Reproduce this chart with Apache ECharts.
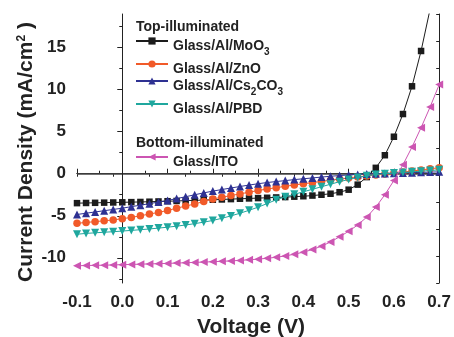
<!DOCTYPE html>
<html>
<head>
<meta charset="utf-8">
<script src="https://cdn.jsdelivr.net/npm/echarts@6/dist/echarts.min.js"></script>
<style>
  html, body { margin: 0; padding: 0; background: #fff; }
  #chart { width: 454px; height: 337px; }
</style>
</head>
<body>
<div id="chart"></div>
<script>
// voltage steps (V)
var voltage = [-0.10, -0.08, -0.06, -0.04, -0.02, 0.00, 0.02, 0.04, 0.06, 0.08,
               0.10, 0.12, 0.14, 0.16, 0.18, 0.20, 0.22, 0.24, 0.26, 0.28,
               0.30, 0.32, 0.34, 0.36, 0.38, 0.40, 0.42, 0.44, 0.46, 0.48,
               0.50, 0.52, 0.54, 0.56, 0.58, 0.60, 0.62, 0.64, 0.66, 0.68, 0.70];

// current density (mA/cm2)
var jMoO3 = [-3.5, -3.48, -3.46, -3.44, -3.42, -3.4, -3.38, -3.36, -3.33, -3.3,
             -3.27, -3.24, -3.2, -3.17, -3.13, -3.1, -3.06, -3.02, -2.98, -2.94,
             -2.9, -2.86, -2.82, -2.78, -2.73, -2.68, -2.6, -2.5, -2.38, -2.2,
             -1.9, -1.3, -0.4, 0.7, 2.2, 4.4, 7.1, 10.4, 14.6, 19.6, 25.5];
var jZnO = [-5.9, -5.8, -5.7, -5.6, -5.5, -5.35, -5.2, -5.0, -4.8, -4.6,
            -4.37, -4.1, -3.85, -3.6, -3.3, -3.0, -2.8, -2.6, -2.4, -2.2,
            -2.0, -1.82, -1.66, -1.5, -1.34, -1.2, -1.06, -0.92, -0.78, -0.64,
            -0.5, -0.38, -0.26, -0.14, -0.03, 0.08, 0.2, 0.32, 0.45, 0.58, 0.72];
var jCs2CO3 = [-4.85, -4.7, -4.55, -4.4, -4.25, -4.1, -3.92, -3.74, -3.56, -3.37,
               -3.18, -2.96, -2.74, -2.5, -2.28, -2.07, -1.88, -1.7, -1.52, -1.35,
               -1.19, -1.05, -0.93, -0.82, -0.7, -0.6, -0.5, -0.4, -0.3, -0.22,
               -0.14, -0.08, -0.03, 0.0, 0.04, 0.07, 0.1, 0.13, 0.16, 0.19, 0.22];
var jPBD = [-7.2, -7.1, -7.03, -6.96, -6.9, -6.82, -6.74, -6.66, -6.57, -6.47,
            -6.36, -6.24, -6.1, -5.94, -5.76, -5.56, -5.3, -5.02, -4.7, -4.35,
            -3.98, -3.55, -3.1, -2.75, -2.45, -2.15, -1.85, -1.55, -1.25, -0.95,
            -0.68, -0.45, -0.25, -0.1, 0.0, 0.08, 0.15, 0.22, 0.3, 0.38, 0.46];
var jITO = [-10.95, -10.92, -10.9, -10.88, -10.85, -10.82, -10.79, -10.76, -10.73, -10.7,
            -10.67, -10.63, -10.59, -10.55, -10.51, -10.47, -10.42, -10.37, -10.31, -10.24,
            -10.16, -10.06, -9.94, -9.78, -9.58, -9.33, -9.02, -8.62, -8.12, -7.5,
            -6.85, -6.1, -5.16, -3.97, -2.5, -0.8, 1.07, 3.17, 5.48, 7.94, 10.6];

var seriesNames = ['Glass/Al/MoO3', 'Glass/Al/ZnO', 'Glass/Al/Cs2CO3', 'Glass/Al/PBD', 'Glass/ITO'];
var legendLabels = ['{a|Glass/Al/MoO}{s|3}', '{a|Glass/Al/ZnO}', '{a|Glass/Al/Cs}{s|2}{a|CO}{s|3}',
                    '{a|Glass/Al/PBD}', '{a|Glass/ITO}'];
var yMajorTicks = [-10, -5, 0, 5, 10, 15];
var yMinorTicks = [-12.5, -7.5, -2.5, 2.5, 7.5, 12.5, 17.5];

var FONT = 'Liberation Sans, Arial, sans-serif';
var colors = ['#1c1c1c', '#f15a29', '#2e3192', '#1fa79e', '#cc55b2'];
var symbols = ['rect', 'circle', 'triangle', 'triangle', 'triangle'];
var symbolSizes = [6.5, 7.5, 8, 8, 8];
var rotations = [0, 0, 0, 180, 90];
var legendCenters = [46, 69, 86, 109, 162];

function pairs(ys) {
    var out = [];
    for (var i = 0; i < voltage.length; i++) out.push([voltage[i], ys[i]]);
    return out;
}
var allData = [jMoO3, jZnO, jCs2CO3, jPBD, jITO];

var series = [];
var legends = [];
for (var k = 0; k < seriesNames.length; k++) {
    var s = {
        name: seriesNames[k],
        type: 'line',
        data: pairs(allData[k]),
        symbol: symbols[k],
        symbolSize: symbolSizes[k],
        symbolRotate: rotations[k],
        lineStyle: { color: colors[k], width: 1 },
        itemStyle: { color: colors[k] },
        z: 3 + k
    };
    if (k === 0) {
        s.markLine = {
            silent: true,
            symbol: 'none',
            label: { show: false },
            z: 1,
            data: [
                { yAxis: 0, lineStyle: { color: '#444', width: 1.5, type: 'solid' } },
                { xAxis: 0, lineStyle: { color: '#222', width: 1, type: 'solid' } }
            ]
        };
    }
    series.push(s);
    (function (idx) {
        legends.push({
            data: [seriesNames[idx]],
            left: 135,
            top: legendCenters[idx] - 12,
            padding: 0,
            itemWidth: 32,
            itemHeight: 9,
            selectedMode: false,
            formatter: function () { return legendLabels[idx]; },
            textStyle: {
                rich: {
                    a: { fontFamily: FONT, fontSize: 14, fontWeight: 'bold', color: '#222',
                         verticalAlign: 'top', lineHeight: 14, padding: [5, 0, 5, 0] },
                    s: { fontFamily: FONT, fontSize: 10, fontWeight: 'bold', color: '#222',
                         verticalAlign: 'top', lineHeight: 10, padding: [13, 0, 0, 0] }
                }
            }
        });
    })(k);
}

var chart = echarts.init(document.getElementById('chart'));
chart.setOption({
    animation: false,
    grid: { left: 77, right: 13, top: 14, bottom: 54 },
    legend: legends,
    xAxis: [
        {
            type: 'value', position: 'bottom', min: -0.1, max: 0.7, interval: 0.1,
            axisLine: { lineStyle: { color: '#222', width: 1 } },
            axisTick: { inside: true, length: 5, lineStyle: { color: '#222' } },
            minorTick: { show: true, splitNumber: 2, length: 3, lineStyle: { color: '#222' } },
            splitLine: { show: false },
            axisLabel: {
                fontFamily: FONT, fontSize: 17, fontWeight: 'bold', color: '#222', margin: 11,
                formatter: function (v) { return v.toFixed(1); }
            }
        },
        {
            type: 'value', position: 'top', min: -0.1, max: 0.7, interval: 0.08,
            axisLine: { lineStyle: { color: '#222', width: 1 } },
            axisTick: { inside: true, length: 3, lineStyle: { color: '#222' } },
            splitLine: { show: false },
            axisLabel: { show: false }
        }
    ],
    yAxis: [
        {
            type: 'value', position: 'left', min: -13, max: 19,
            axisLine: { show: true, lineStyle: { color: '#222', width: 1 } },
            axisTick: { show: true, length: 5, customValues: yMajorTicks, lineStyle: { color: '#222' } },
            splitLine: { show: false },
            axisLabel: {
                customValues: yMajorTicks,
                fontFamily: FONT, fontSize: 17, fontWeight: 'bold', color: '#222', margin: 11
            }
        },
        {
            type: 'value', position: 'left', min: -13, max: 19,
            axisLine: { show: false },
            axisTick: { show: true, length: 3, customValues: yMinorTicks, lineStyle: { color: '#222' } },
            splitLine: { show: false },
            axisLabel: { show: false }
        },
        {
            type: 'value', position: 'right', min: -13, max: 19, interval: 3.2,
            axisLine: { show: true, lineStyle: { color: '#222', width: 1 } },
            axisTick: { show: true, inside: true, length: 3, lineStyle: { color: '#222' } },
            splitLine: { show: false },
            axisLabel: { show: false }
        }
    ],
    graphic: [
        { type: 'text', left: 136, top: 20,
          style: { text: 'Top-illuminated', font: 'bold 14px ' + FONT, fill: '#222' } },
        { type: 'text', left: 136, top: 136,
          style: { text: 'Bottom-illuminated', font: 'bold 14px ' + FONT, fill: '#222' } },
        { type: 'text', x: 251, y: 327,
          style: { text: 'Voltage (V)', font: 'bold 21px ' + FONT, fill: '#222',
                   align: 'center', verticalAlign: 'middle' } },
        { type: 'text', x: 28, y: 152, rotation: Math.PI / 2,
          style: {
              text: '{m|Current Density (mA/cm}{p|2}{m| )}',
              align: 'center', verticalAlign: 'middle',
              rich: {
                  m: { fontFamily: FONT, fontSize: 21, fontWeight: 'bold', fill: '#222',
                       verticalAlign: 'top', lineHeight: 24 },
                  p: { fontFamily: FONT, fontSize: 12, fontWeight: 'bold', fill: '#222',
                       verticalAlign: 'top', lineHeight: 12 }
              }
          } }
    ],
    series: series
});
</script>
</body>
</html>
